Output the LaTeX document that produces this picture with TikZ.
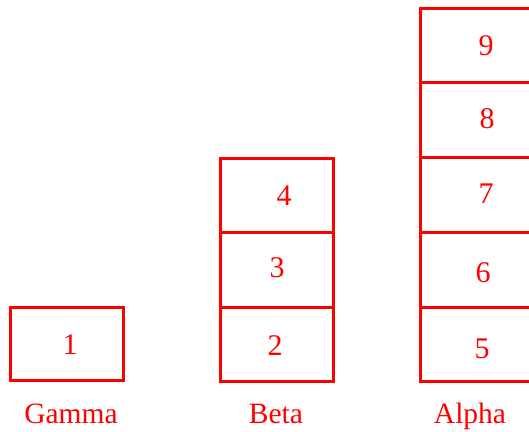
\documentclass[tikz,border=0pt]{standalone}
\usepackage{fontspec}
\setmainfont{Liberation Serif}
\begin{document}
\begin{tikzpicture}[x=1pt,y=-1pt,
  cell/.style={draw=red,line width=3pt},
  num/.style={text=red,font=\fontsize{30}{33}\selectfont,inner sep=0pt,anchor=center},
  lab/.style={text=red,font=\fontsize{29.5}{33}\selectfont,inner sep=0pt,anchor=base}]
\useasboundingbox (0,0) rectangle (529,431);
\begin{scope}
\clip (0,0) rectangle (529,431);
% Gamma
\draw[cell] (10,307) rectangle (123,380);
\node[num] (n1) at (70,345) {1};
\node[lab] (gamma) at (71,423) {Gamma};
% Beta
\draw[cell] (220,158) rectangle (333,232);
\draw[cell] (220,232) rectangle (333,307);
\draw[cell] (220,307) rectangle (333,381);
\node[num] (n4) at (284,196) {4};
\node[num] (n3) at (277,268) {3};
\node[num] (n2) at (275,346) {2};
\node[lab] (beta) at (276,423) {Beta};
% Alpha
\draw[cell] (420,8) rectangle (550,82);
\draw[cell] (420,82) rectangle (550,157);
\draw[cell] (420,157) rectangle (550,232);
\draw[cell] (420,232) rectangle (550,307);
\draw[cell] (420,307) rectangle (550,381);
\node[num] (n9) at (486,46) {9};
\node[num] (n8) at (487,119) {8};
\node[num] (n7) at (486,194) {7};
\node[num] (n6) at (483,273) {6};
\node[num] (n5) at (482,349) {5};
\node[lab] (alpha) at (470,423) {Alpha};
\end{scope}
\end{tikzpicture}
\end{document}
